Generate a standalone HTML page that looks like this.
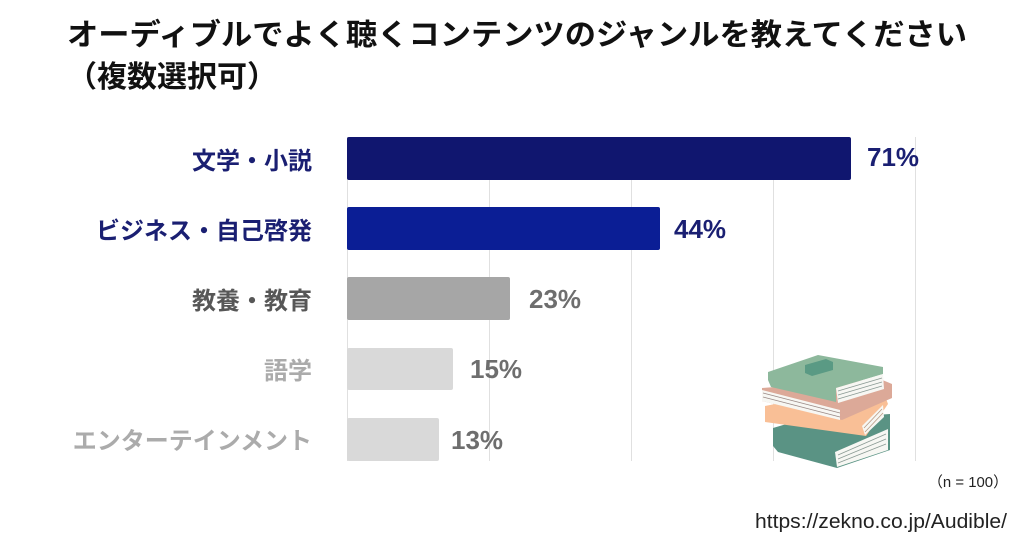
<!DOCTYPE html>
<html>
<head>
<meta charset="utf-8">
<style>
html,body{margin:0;padding:0;background:#fff;}
body{width:1024px;height:538px;overflow:hidden;}
svg{display:block;}
.jp{font-family:"Liberation Sans","Noto Sans CJK JP",sans-serif;font-weight:700;}
.num{font-family:"Liberation Sans",sans-serif;font-weight:700;}
</style>
</head>
<body>
<svg width="1024" height="538" viewBox="0 0 1024 538" xmlns="http://www.w3.org/2000/svg">
  <rect width="1024" height="538" fill="#fff"/>
  <!-- Title -->
  <text class="jp" x="67" y="45" font-size="30" fill="#111" textLength="900" lengthAdjust="spacingAndGlyphs">オーディブルでよく聴くコンテンツのジャンルを教えてください</text>
  <text class="jp" x="67" y="87" font-size="30" fill="#111">（複数選択可）</text>

  <!-- gridlines -->
  <g stroke="#e0e0e0" stroke-width="1">
    <line x1="347.5" y1="137" x2="347.5" y2="461"/>
    <line x1="489.5" y1="137" x2="489.5" y2="461"/>
    <line x1="631.5" y1="137" x2="631.5" y2="461"/>
    <line x1="773.5" y1="137" x2="773.5" y2="461"/>
    <line x1="915.5" y1="137" x2="915.5" y2="461"/>
  </g>

  <!-- bars -->
  <rect x="347" y="137" width="504" height="43" rx="2" fill="#10166f"/>
  <rect x="347" y="207" width="313" height="43" rx="2" fill="#0b1e95"/>
  <rect x="347" y="277" width="163" height="43" rx="2" fill="#a6a6a6"/>
  <rect x="347" y="348" width="106" height="42" rx="2" fill="#d9d9d9"/>
  <rect x="347" y="418" width="92" height="43" rx="2" fill="#d9d9d9"/>

  <!-- category labels -->
  <g class="jp" font-size="24" text-anchor="end">
    <text x="312" y="169" fill="#1a1f72">文学・小説</text>
    <text x="312" y="239" fill="#1a1f72">ビジネス・自己啓発</text>
    <text x="312" y="309" fill="#575757">教養・教育</text>
    <text x="312" y="379" fill="#ababab">語学</text>
    <text x="312" y="449" fill="#ababab">エンターテインメント</text>
  </g>

  <!-- values -->
  <g class="num" font-size="26">
    <text x="867" y="166" fill="#1a1f72">71%</text>
    <text x="674" y="238" fill="#1a1f72">44%</text>
    <text x="529" y="308" fill="#6e6e6e">23%</text>
    <text x="470" y="378" fill="#6e6e6e">15%</text>
    <text x="451" y="449" fill="#6e6e6e">13%</text>
  </g>

  <!-- books illustration -->
  <g>
    <!-- bottom dark green book -->
    <polygon points="773,428 800,420 890,414 890,450 837,468 778,452 773,446" fill="#5a9384"/>
    <polygon points="835,452 888,429 888,450 837,467" fill="#f7f7f3"/>
    <g stroke="#8a9a94" stroke-width="0.8">
      <line x1="838" y1="455" x2="886" y2="434"/>
      <line x1="838" y1="459" x2="886" y2="439"/>
      <line x1="838" y1="463" x2="886" y2="444"/>
    </g>
    <!-- peach book -->
    <polygon points="765,406 800,399 885,396 888,404 866,436 765,422" fill="#f9bf96"/>
    <polygon points="862,426 883,405 884,417 865,435" fill="#f7f7f3"/>
    <g stroke="#b89a84" stroke-width="0.8">
      <line x1="864" y1="428" x2="882" y2="409"/>
      <line x1="865" y1="432" x2="883" y2="413"/>
    </g>
    <!-- pink book -->
    <polygon points="762,388 880,379 892,384 892,398 842,420 762,401" fill="#dca998"/>
    <polygon points="762,390 840,410 840,420 762,401" fill="#f7f7f3"/>
    <g stroke="#9a8a86" stroke-width="0.8">
      <line x1="763" y1="393" x2="840" y2="413"/>
      <line x1="763" y1="397" x2="840" y2="417"/>
    </g>
    <!-- top light green book -->
    <polygon points="768,372 818,355 883,367 883,374 836,388 836,402 771,387 768,380" fill="#8db89c"/>
    <polygon points="836,388 883,374 884,389 838,403" fill="#f7f7f3"/>
    <g stroke="#8a9a94" stroke-width="0.8">
      <line x1="838" y1="391" x2="882" y2="378"/>
      <line x1="838" y1="395" x2="882" y2="382"/>
      <line x1="838" y1="399" x2="882" y2="386"/>
    </g>
    <polygon points="805,365 826,359 833,362 833,370 812,376 805,373" fill="#5a9a84"/>
  </g>

  <!-- footnotes -->
  <text x="928" y="487" font-size="15" fill="#222" font-family="Liberation Sans, Noto Sans CJK JP, sans-serif" textLength="80" lengthAdjust="spacingAndGlyphs">（n = 100）</text>
  <text x="755" y="528" font-size="20" fill="#222" font-family="Liberation Sans, sans-serif" textLength="252" lengthAdjust="spacingAndGlyphs">https://zekno.co.jp/Audible/</text>
</svg>
</body>
</html>
